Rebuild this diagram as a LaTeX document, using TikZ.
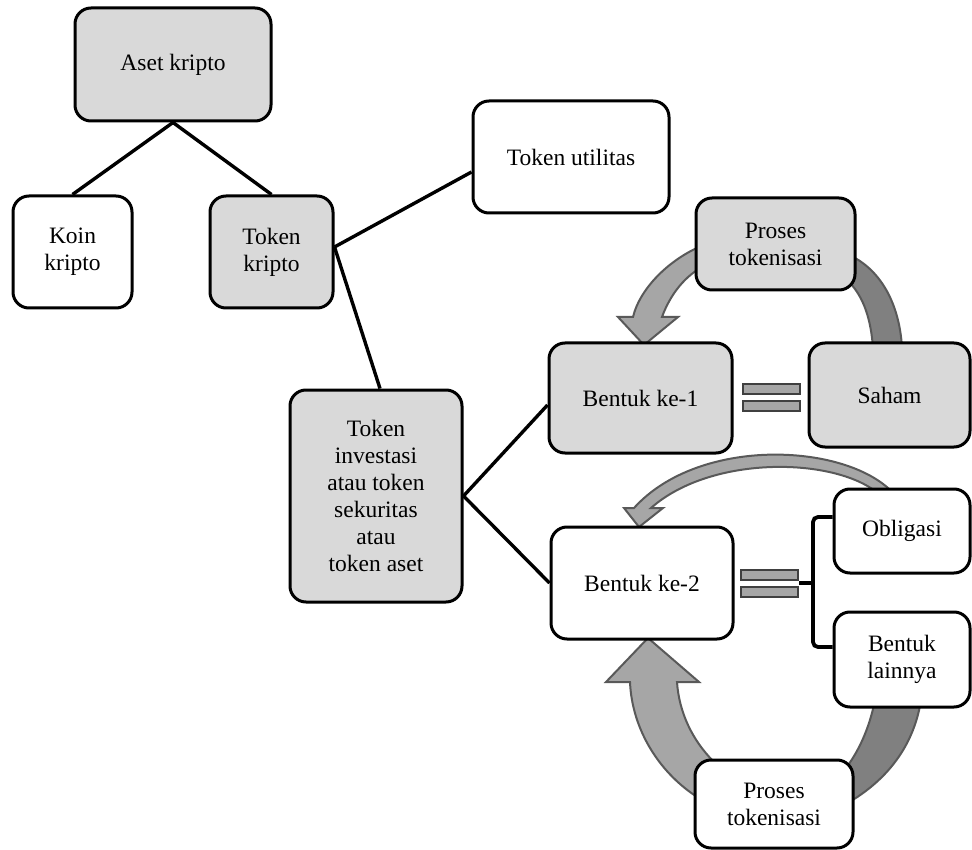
\documentclass[tikz,border=0pt]{standalone}
\usepackage{fontspec}
\setmainfont{Liberation Serif}
\definecolor{boxgrey}{HTML}{D9D9D9}
\definecolor{arrowlight}{HTML}{A6A6A6}
\definecolor{arrowdark}{HTML}{808080}
\definecolor{arrowedge}{HTML}{595959}
\definecolor{baredge}{HTML}{404040}
\begin{document}
\begin{tikzpicture}[x=1pt,y=-1pt,
  box/.style={draw, line width=3pt, rounded corners=16pt, inner sep=0pt,
    align=center, font=\fontsize{23.5}{27}\selectfont},
  greybox/.style={box, fill=boxgrey},
  plainbox/.style={box, fill=white},
  link/.style={line width=3.4pt},
  bracket/.style={line width=3.8pt, rounded corners=5pt},
  cycarrow/.style={fill=arrowlight, draw=arrowedge, line width=2pt},
  cycband/.style={fill=arrowdark, draw=arrowedge, line width=2pt},
  bar/.style={draw=baredge, fill=arrowlight, line width=2.2pt, inner sep=0pt,
    minimum width=57pt, minimum height=10pt}
]
\useasboundingbox (0,0) rectangle (972,850);

% cycle arrows (drawn first, boxes cover their ends)
\draw[cycarrow] (706,244) .. controls (670,258) and (640,288) .. (633,317)
  -- (618,317) -- (644,345) -- (678,317) -- (662,317)
  .. controls (670,295) and (685,275) .. (706,265) -- cycle;
\draw[cycband] (850,258) -- (855,258) .. controls (885,275) and (900,310) .. (902,348)
  -- (873,348) .. controls (871,320) and (864,298) .. (850,283) -- cycle;
\draw[cycarrow] (895,495) .. controls (850,443) and (700,435) .. (634,508)
  -- (624,508) -- (639,527) -- (663,508) -- (651,508)
  .. controls (712,454) and (838,457) .. (880,495) -- cycle;
\draw[cycarrow] (630,682) .. controls (632,730) and (660,775) .. (702,800)
  -- (714,790) -- (714,762) .. controls (692,740) and (679,712) .. (677,682)
  -- (699,682) -- (648,638) -- (606,682) -- cycle;
\draw[cycband] (875,700) .. controls (869,730) and (858,752) .. (846,768)
  -- (846,804) .. controls (888,780) and (914,745) .. (921,700) -- cycle;

% boxes
\node[greybox, minimum width=196pt, minimum height=113pt] (aset) at (173,64.5) {Aset kripto};
\node[plainbox, minimum width=119pt, minimum height=112pt] (koin) at (72.5,252) {Koin\\kripto};
\node[greybox, minimum width=123pt, minimum height=112pt] (tkripto) at (271.5,252) {Token\\kripto};
\node[plainbox, minimum width=196pt, minimum height=112pt] (util) at (571,157) {Token utilitas};
\node[greybox, minimum width=172pt, minimum height=212pt] (invest) at (376,496)
  {Token\\investasi\\atau token\\sekuritas\\atau\\token aset};
\node[greybox, minimum width=159pt, minimum height=92pt] (proses1) at (775.5,244) {Proses\\tokenisasi};
\node[greybox, minimum width=183pt, minimum height=110pt] (b1) at (640.5,398) {Bentuk ke-1};
\node[greybox, minimum width=161pt, minimum height=104pt] (saham) at (889.5,395) {Saham};
\node[plainbox, minimum width=182pt, minimum height=112pt] (b2) at (642,583) {Bentuk ke-2};
\node[plainbox, minimum width=136pt, minimum height=84pt] (oblig) at (902,531) {Obligasi};
\node[plainbox, minimum width=136pt, minimum height=95pt] (lain) at (902,659.5) {Bentuk\\lainnya};
\node[plainbox, minimum width=158pt, minimum height=88pt] (proses2) at (774,804) {Proses\\tokenisasi};

% equals signs
\node[bar] (eqa1) at (771.5,389) {};
\node[bar] (eqb1) at (771.5,406) {};
\node[bar] (eqa2) at (769.5,575) {};
\node[bar] (eqb2) at (769.5,592) {};

% tree connectors
\draw[link] (aset.south) -- (koin.north);
\draw[link] (aset.south) -- (tkripto.north);
\draw[link] ([yshift=5pt]tkripto.east) -- ([yshift=-15pt]util.west);
\draw[link] ([yshift=5pt]tkripto.east) -- ([xshift=4pt]invest.north);
\draw[link] (invest.east) -- ([yshift=-7pt]b1.west);
\draw[link] (invest.east) -- (b2.west);

% bracket from the second equals sign to its two forms
\coordinate (eqend) at (eqa2.south east |- b2.east);
\coordinate (bracemid) at (813,583);
\draw[bracket] ([yshift=14pt]oblig.west) -| (bracemid) |- ([yshift=12.5pt]lain.west);
\draw[line width=3.8pt] (eqend) -- (bracemid);
\end{tikzpicture}
\end{document}
